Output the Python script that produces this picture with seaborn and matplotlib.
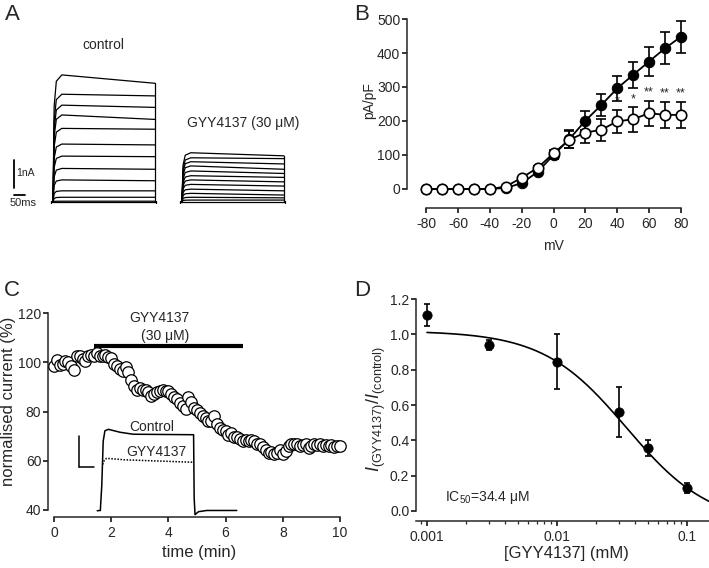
"""Four-panel figure: Kv current traces, I-V curves, time course and concentration-response."""

import matplotlib
matplotlib.use("Agg")
import matplotlib.pyplot as plt
import numpy as np
import seaborn as sns
from matplotlib.ticker import FixedLocator, FuncFormatter, LogLocator, NullFormatter

# --- Panel A: current traces (nA) at each voltage step, start and end of the step
CTRL_PEAK = [4.54, 3.85, 3.46, 3.11, 2.63, 2.07, 1.64, 1.20, 0.79, 0.40, 0.17, 0.03]
CTRL_END = [4.24, 3.79, 3.38, 2.95, 2.60, 2.04, 1.62, 1.17, 0.76, 0.40, 0.17, 0.03]
GYY_PEAK = [1.76, 1.58, 1.44, 1.29, 1.11, 0.94, 0.79, 0.63, 0.46, 0.31, 0.17, 0.07]
GYY_END = [1.65, 1.55, 1.36, 1.17, 1.02, 0.88, 0.72, 0.57, 0.40, 0.25, 0.15, 0.07]
STEP_MS = 464
GYY_START_MS = 586
RISE_MS = [0, 5, 15, 40]
RISE_FRAC = [0.0, 0.75, 0.95, 1.0]

# --- Panel B: I-V relationship
B_MV = [-80, -70, -60, -50, -40, -30, -20, -10, 0, 10, 20, 30, 40, 50, 60, 70, 80]
B_CTRL = [0, 0, 0, 0, 0, 3, 17, 50, 100, 147, 201, 247, 296, 336, 375, 414, 448]
B_CTRL_SEM = [0, 0, 0, 0, 0, 2, 3, 5, 12, 27, 27, 31, 36, 38, 42, 47, 47]
B_GYY = [0, 0, 0, 0, 0, 7, 33, 62, 105, 145, 166, 174, 199, 205, 223, 218, 218]
B_GYY_SEM = [0, 0, 0, 0, 0, 2, 3, 5, 10, 25, 32, 32, 34, 36, 37, 38, 38]
STAR_MV = [40, 50, 60, 70, 80]
STAR_TXT = ["*", "*", "**", "**", "**"]

# --- Panel C: normalised current over time (sampled every 0.1 min)
NORM_T = np.linspace(0, 10, 101)
NORM_I = [
    98.7, 101, 99, 99.3, 100.7, 100, 98.7, 97, 102.7, 102.7,
    101.4, 100.7, 102.7, 103, 102.7, 103.7, 102.7, 102.7, 103, 102.3,
    101.8, 99.3, 98.7, 97.3, 96.4, 98.3, 96, 92.8, 90.5, 88.8,
    89.5, 88.8, 88.8, 87.8, 86.4, 87.1, 87.8, 88.5, 88.8, 88.2,
    88.5, 87.1, 86, 85.1, 83.7, 82.4, 81, 85.8, 84.1, 81.4,
    80.6, 79.6, 78.3, 77.3, 76.2, 76, 78.3, 74.9, 73.3, 72.4,
    72.2, 70.5, 71.1, 69.7, 69.5, 68.8, 68.1, 68.4, 68.1, 68.4,
    68.1, 67, 66.7, 65.6, 64.3, 63.3, 63.7, 62.7, 63.3, 64.3,
    62.7, 64, 66, 67, 66.7, 67, 66, 66.5, 66.7, 65.4,
    66, 67, 66.5, 66.7, 66, 66.5, 66, 66.3, 65.8, 66, 66,
]
DRUG_ON, DRUG_OFF = 1.41, 6.62
# inset example traces, drawn in the panel's own units
INSET_CTRL_T = [1.51, 1.62, 1.67, 1.72, 1.78, 1.90, 2.31, 2.77, 4.88, 4.90, 4.93, 5.05, 5.34, 6.39]
INSET_CTRL_V = [39.7, 39.8, 50, 68, 72.2, 72.8, 71.6, 70.8, 70.6, 45, 38.1, 39.3, 39.8, 39.8]
INSET_GYY_T = [1.70, 1.76, 1.84, 2.47, 4.88]
INSET_GYY_V = [58.5, 60.2, 61.0, 60.4, 59.4]

# --- Panel D: concentration-response
D_CONC = [0.001, 0.003, 0.01, 0.03, 0.05, 0.1]
D_MEAN = [1.11, 0.94, 0.845, 0.56, 0.357, 0.13]
D_SEM = [0.06, 0.03, 0.155, 0.14, 0.045, 0.03]
FIT_TOP, FIT_BOTTOM, IC50_MM, HILL = 1.02, -0.08, 0.0344, 1.35

FS = 10
FS_LABEL = 12


def style_axis(ax):
    for side in ("top", "right"):
        ax.spines[side].set_visible(False)
    for side in ("left", "bottom"):
        ax.spines[side].set_linewidth(1.1)
    ax.tick_params(labelsize=FS, width=1.1, length=3.6, color="k", pad=1.2)


def main() -> None:
    sns.set_style("ticks")
    plt.rcParams["font.family"] = ["Liberation Sans", "DejaVu Sans"]
    plt.rcParams["mathtext.fontset"] = "custom"
    plt.rcParams["mathtext.rm"] = "Liberation Sans"
    plt.rcParams["mathtext.it"] = "Liberation Sans:italic"
    plt.rcParams["axes.unicode_minus"] = False

    fig = plt.figure(figsize=(7.09, 5.68), dpi=100)

    # ---------------- A
    ax_a = fig.add_axes([0.0, 0.595, 0.4993, 0.352])
    ax_a.set_xlim(-241, 1368)
    ax_a.set_ylim(-1.0, 6.14)
    ax_a.axis("off")
    for start, peaks, ends in ((0, CTRL_PEAK, CTRL_END), (GYY_START_MS, GYY_PEAK, GYY_END)):
        for p, e in zip(peaks, ends):
            t = [start + r for r in RISE_MS] + [start + STEP_MS]
            v = [p * f for f in RISE_FRAC] + [e]
            sns.lineplot(x=t, y=v, color="k", lw=0.9, ax=ax_a, sort=False)
        ax_a.plot([start + STEP_MS] * 2, [0, ends[0]], color="k", lw=0.9)
        ax_a.plot([start - 8, start + STEP_MS + 6], [0, 0], color="k", lw=0.9)
        ax_a.plot([start - 8] * 2, [-0.05, 0.05], color="k", lw=0.9)
        ax_a.plot([start + STEP_MS + 6] * 2, [-0.05, 0.05], color="k", lw=0.9)
    ax_a.plot([-177, -177], [0.5, 1.5], color="k", lw=1.3)
    ax_a.plot([-177, -127], [0.25, 0.25], color="k", lw=1.3)
    ax_a.text(-168, 1.04, "1nA", fontsize=7.5, va="center", ha="left")
    ax_a.text(-136, -0.05, "50ms", fontsize=8, va="center", ha="center")
    ax_a.text(227, 5.6, "control", fontsize=FS, ha="center", va="center")
    ax_a.text(864, 2.82, "GYY4137 (30 μM)", fontsize=FS, ha="center", va="center")

    # ---------------- B
    ax_b = fig.add_axes([0.574, 0.6338, 0.3977, 0.3387])
    ax_b.errorbar(B_MV, B_CTRL, yerr=B_CTRL_SEM, fmt="none", ecolor="k",
                  elinewidth=1.2, capsize=3.5, capthick=1.2, zorder=2)
    ax_b.errorbar(B_MV, B_GYY, yerr=B_GYY_SEM, fmt="none", ecolor="k",
                  elinewidth=1.2, capsize=3.5, capthick=1.2, zorder=2)
    sns.lineplot(x=B_MV, y=B_CTRL, color="k", lw=1.3, marker="o", markersize=7.5,
                 markerfacecolor="k", markeredgecolor="k", ax=ax_b, zorder=3)
    sns.lineplot(x=B_MV, y=B_GYY, color="k", lw=1.3, marker="o", markersize=7.5,
                 markerfacecolor="white", markeredgecolor="k", markeredgewidth=1.2,
                 ax=ax_b, zorder=4)
    for mv, txt in zip(STAR_MV, STAR_TXT):
        i = B_MV.index(mv)
        ax_b.text(mv, B_GYY[i] + B_GYY_SEM[i] + 6, txt, fontsize=9, ha="center", va="bottom")
    ax_b.set_xlim(-92, 85)
    ax_b.set_ylim(-56, 510)
    ax_b.set_xticks(range(-80, 81, 20))
    ax_b.set_yticks(range(0, 501, 100))
    ax_b.spines["left"].set_bounds(0, 500)
    ax_b.spines["bottom"].set_bounds(-80, 80)
    style_axis(ax_b)
    ax_b.tick_params(axis="x", pad=3)
    ax_b.set_ylabel("pA/pF", fontsize=FS, va="center")
    ax_b.yaxis.set_label_coords(-0.135, 0.56)
    ax_b.set_xlabel("mV", fontsize=FS, va="center")
    ax_b.xaxis.set_label_coords(0.521, -0.197)

    # ---------------- C
    ax_c = fig.add_axes([0.0677, 0.0898, 0.424, 0.3674])
    ax_c.set_xlim(-0.21, 10.3)
    ax_c.set_ylim(37.15, 122)
    sns.lineplot(x=INSET_CTRL_T, y=INSET_CTRL_V, color="k", lw=1.1, sort=False, ax=ax_c)
    sns.lineplot(x=INSET_GYY_T, y=INSET_GYY_V, color="k", lw=1.1, ls=(0, (1, 1)),
                 sort=False, ax=ax_c)
    ax_c.plot([0.89, 0.89], [57.6, 70.1], color="k", lw=1.1)
    ax_c.plot([0.89, 1.41], [57.6, 57.6], color="k", lw=1.1)
    ax_c.text(3.41, 73.9, "Control", fontsize=FS, ha="center", va="center")
    ax_c.text(3.59, 63.7, "GYY4137", fontsize=FS, ha="center", va="center")
    sns.scatterplot(x=NORM_T, y=NORM_I, s=68, facecolor="white", edgecolor="k",
                    linewidth=0.9, ax=ax_c, zorder=3)
    ax_c.plot([DRUG_ON, DRUG_OFF], [106.7, 106.7], color="k", lw=3, solid_capstyle="butt")
    ax_c.text(3.7, 118.2, "GYY4137", fontsize=FS, ha="center", va="center")
    ax_c.text(3.88, 110.9, "(30 μM)", fontsize=FS, ha="center", va="center")
    ax_c.set_xticks(range(0, 11, 2))
    ax_c.set_yticks(range(40, 121, 20))
    ax_c.spines["left"].set_bounds(40, 120)
    ax_c.spines["bottom"].set_bounds(0, 10)
    style_axis(ax_c)
    ax_c.tick_params(axis="x", pad=3)
    ax_c.set_ylabel("normalised current (%)", fontsize=FS_LABEL, va="center")
    ax_c.yaxis.set_label_coords(-0.13, 0.556)
    ax_c.set_xlabel("time (min)", fontsize=FS_LABEL, va="center")
    ax_c.xaxis.set_label_coords(0.502, -0.172)

    # ---------------- D
    ax_d = fig.add_axes([0.5867, 0.0827, 0.4133, 0.397])
    ax_d.set_xscale("log")
    fit_x = np.logspace(-3, np.log10(0.148), 200)
    fit_y = FIT_BOTTOM + (FIT_TOP - FIT_BOTTOM) / (1 + (fit_x / IC50_MM) ** HILL)
    sns.lineplot(x=fit_x, y=fit_y, color="k", lw=1.2, ax=ax_d)
    ax_d.errorbar(D_CONC, D_MEAN, yerr=D_SEM, fmt="none", ecolor="k",
                  elinewidth=1.2, capsize=2.5, capthick=1.2)
    sns.scatterplot(x=D_CONC, y=D_MEAN, s=45, color="k", edgecolor="k", ax=ax_d, zorder=3)
    ax_d.text(0.001374, 0.079, r"IC$_{50}$=34.4 μM", fontsize=FS, ha="left", va="center")
    ax_d.set_xlim(10 ** -3.085, 10 ** -0.83)
    ax_d.set_ylim(-0.057, 1.22)
    ax_d.xaxis.set_major_locator(FixedLocator([0.001, 0.01, 0.1]))
    ax_d.xaxis.set_major_formatter(FuncFormatter(lambda v, _: f"{v:g}"))
    ax_d.xaxis.set_minor_locator(LogLocator(base=10, subs=np.arange(2, 10)))
    ax_d.xaxis.set_minor_formatter(NullFormatter())
    ax_d.set_yticks(np.arange(0, 1.21, 0.2))
    ax_d.yaxis.set_major_formatter(FuncFormatter(lambda v, _: f"{v:.1f}"))
    ax_d.spines["left"].set_bounds(0, 1.2)
    style_axis(ax_d)
    ax_d.tick_params(axis="x", pad=3)
    ax_d.tick_params(axis="x", which="minor", length=2.2, width=0.9)
    ax_d.set_ylabel(r"$I_{\rm (GYY4137)}/I_{\rm (control)}$", fontsize=13, va="center")
    ax_d.yaxis.set_label_coords(-0.135, 0.497)
    ax_d.set_xlabel("[GYY4137] (mM)", fontsize=FS_LABEL, va="center")
    ax_d.xaxis.set_label_coords(0.512, -0.142)

    # panel letters
    for letter, px, py in (("A", 12, 14), ("B", 362, 14), ("C", 12, 291), ("D", 362, 290)):
        fig.text(px / 709, 1 - py / 568, letter, fontsize=16, ha="center", va="center")

    fig.savefig("out.png", dpi=100)
    plt.close(fig)


if __name__ == "__main__":
    main()
